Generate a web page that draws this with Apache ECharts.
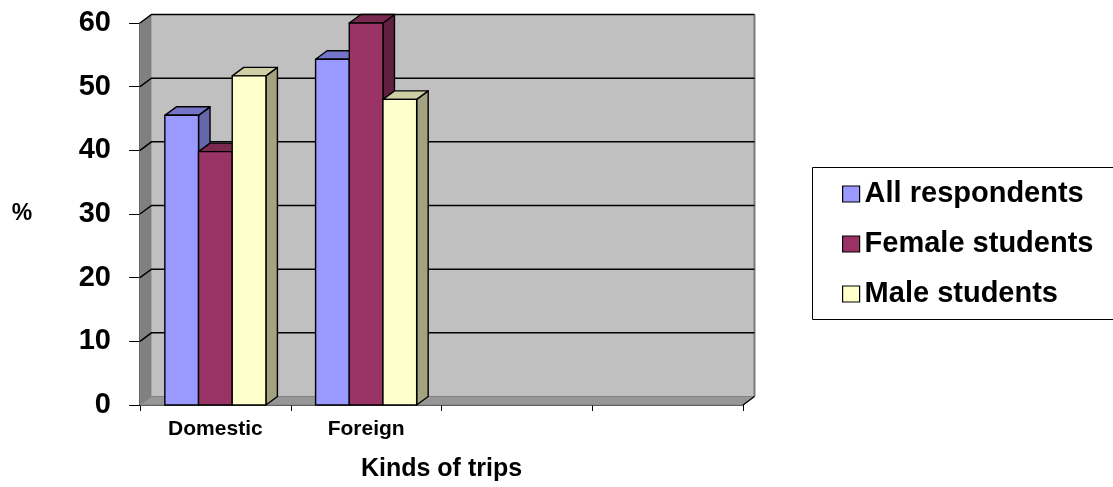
<!DOCTYPE html>
<html>
<head>
<meta charset="utf-8">
<title>Kinds of trips</title>
<script src="https://cdn.jsdelivr.net/npm/echarts@6/dist/echarts.min.js"></script>
<style>
  html, body { margin: 0; padding: 0; background: #fff; }
  #chart { width: 1113px; height: 487px; }
</style>
</head>
<body>
<div id="chart"></div>
<script>
// Category slots on the x axis (the last two are empty slots)
const categories = ['Domestic', 'Foreign', '', ''];
// Percentages per kind of trip
const allRespondents = [45.5, 54.3];
const femaleStudents = [39.8, 60];
const maleStudents = [51.7, 48];
const seriesNames = ['All respondents', 'Female students', 'Male students'];
const yTicks = [0, 10, 20, 30, 40, 50, 60];

const FONT = 'Arial, "Liberation Sans", Helvetica, sans-serif';
const DEPTH = [11.5, -8.5];       // 3D depth offset in pixels
const BAR_RATIO = 0.2235;         // front-face width as a share of a category band

const palettes = [
  { front: '#9999ff', top: '#7474c8', side: '#6666aa' },
  { front: '#993366', top: '#7a2950', side: '#602040' },
  { front: '#ffffcc', top: '#cfcfa6', side: '#a3a382' }
];

function barRenderer(seriesIdx, pal) {
  return function (params, api) {
    const cat = api.value(0);
    const val = api.value(1);
    const top = api.coord([cat, val]);
    const base = api.coord([cat, 0]);
    const band = api.size([1, 0])[0];
    const bw = band * BAR_RATIO;
    const x0 = top[0] + (seriesIdx - 1.5) * bw;
    const x1 = x0 + bw;
    const yT = top[1], yB = base[1];
    const dx = DEPTH[0], dy = DEPTH[1];
    const line = { stroke: '#000', lineWidth: 1.4, lineJoin: 'round' };
    return {
      type: 'group',
      children: [
        { type: 'polygon', shape: { points: [[x1, yT], [x1 + dx, yT + dy], [x1 + dx, yB + dy], [x1, yB]] },
          style: Object.assign({ fill: pal.side }, line) },
        { type: 'polygon', shape: { points: [[x0, yT], [x0 + dx, yT + dy], [x1 + dx, yT + dy], [x1, yT]] },
          style: Object.assign({ fill: pal.top }, line) },
        { type: 'rect', shape: { x: x0, y: yT, width: bw, height: yB - yT },
          style: Object.assign({ fill: pal.front }, line) }
      ]
    };
  };
}

// Side wall, back wall, floor and back gridlines of the 3D plot box
function wallRenderer(params, api) {
  const cs = params.coordSys;
  const gx = cs.x, gy = cs.y, gw = cs.width, gb = cs.y + cs.height;
  const dx = DEPTH[0], dy = DEPTH[1];
  const children = [
    { type: 'polygon', shape: { points: [[gx, gy], [gx + dx, gy + dy], [gx + dx, gb + dy], [gx, gb]] },
      style: { fill: '#808080', stroke: '#8a8a8a', lineWidth: 1 } },
    { type: 'rect', shape: { x: gx + dx, y: gy + dy, width: gw, height: cs.height },
      style: { fill: '#c0c0c0' } },
    { type: 'polygon', shape: { points: [[gx, gb], [gx + dx, gb + dy], [gx + gw + dx, gb + dy], [gx + gw, gb]] },
      style: { fill: '#979797', stroke: '#808080', lineWidth: 1 } },
    { type: 'line', shape: { x1: gx + gw + dx, y1: gy + dy, x2: gx + gw + dx, y2: gb + dy },
      style: { stroke: '#7a7a7a', lineWidth: 2 } },
    { type: 'line', shape: { x1: gx + gw, y1: gb, x2: gx + gw + dx, y2: gb + dy },
      style: { stroke: '#000', lineWidth: 1.2 } }
  ];
  yTicks.forEach(function (v) {
    if (v === 0) return;
    const y = api.coord([0, v])[1];
    children.push({
      type: 'polyline',
      shape: { points: [[gx, y], [gx + dx, y + dy], [gx + gw + dx, y + dy]] },
      style: { stroke: '#000', lineWidth: 1.5, fill: null }
    });
  });
  return { type: 'group', children: children };
}

const seriesData = [allRespondents, femaleStudents, maleStudents];

const chart = echarts.init(document.getElementById('chart'), null, { renderer: 'canvas' });

chart.setOption({
  animation: false,
  textStyle: { fontFamily: FONT },
  grid: { left: 140, top: 23, width: 603, height: 382 },
  // Legend frame runs past the right edge of the canvas
  graphic: [{
    type: 'polyline',
    shape: { points: [[1140, 167.5], [812.5, 167.5], [812.5, 319.5], [1140, 319.5]] },
    style: { fill: null, stroke: '#000', lineWidth: 1 },
    z: 0
  }],
  xAxis: {
    type: 'category',
    data: categories,
    boundaryGap: true,
    axisLine: { lineStyle: { color: '#000', width: 1.5 } },
    axisTick: { show: true, length: 6, lineStyle: { color: '#000', width: 1 } },
    axisLabel: { color: '#000', fontSize: 21, fontWeight: 'bold', fontFamily: FONT, margin: 14 },
    name: 'Kinds of trips',
    nameLocation: 'middle',
    nameGap: 64,
    nameTextStyle: { color: '#000', fontSize: 25, fontWeight: 'bold', fontFamily: FONT, verticalAlign: 'middle' },
    splitLine: { show: false }
  },
  yAxis: {
    type: 'value',
    min: 0,
    max: 60,
    interval: 10,
    axisLine: { show: true, lineStyle: { color: '#000', width: 1.5 } },
    axisTick: { show: true, length: 11, lineStyle: { color: '#000', width: 1 } },
    axisLabel: { color: '#000', fontSize: 29, fontWeight: 'bold', fontFamily: FONT, margin: 29 },
    splitLine: { show: false },
    name: '%',
    nameLocation: 'middle',
    nameRotate: 0,
    nameGap: 118,
    nameTextStyle: { color: '#000', fontSize: 23, fontWeight: 'bold', fontFamily: FONT, align: 'center', verticalAlign: 'middle' }
  },
  legend: {
    orient: 'vertical',
    left: 812,
    top: 167,
    padding: [12, 20, 11, 30],
    itemWidth: 17,
    itemHeight: 16,
    itemGap: 20,
    borderWidth: 0,
    z: 5,
    selectedMode: false,
    textStyle: { color: '#000', fontSize: 29, fontWeight: 'bold', fontFamily: FONT, lineHeight: 30 },
    data: seriesNames.map(function (n, i) {
      return { name: n, icon: 'rect', itemStyle: { color: palettes[i].front, borderColor: '#000', borderWidth: 1.2 } };
    })
  },
  series: [
    {
      type: 'custom',
      name: 'walls',
      z: 1,
      silent: true,
      data: [[0, 0]],
      renderItem: wallRenderer
    }
  ].concat(seriesData.map(function (vals, i) {
    return {
      type: 'custom',
      name: seriesNames[i],
      z: 3 + i,
      itemStyle: { color: palettes[i].front },
      data: vals.map(function (v, k) { return [k, v]; }),
      encode: { x: 0, y: 1 },
      renderItem: barRenderer(i, palettes[i])
    };
  }))
});
</script>
</body>
</html>
